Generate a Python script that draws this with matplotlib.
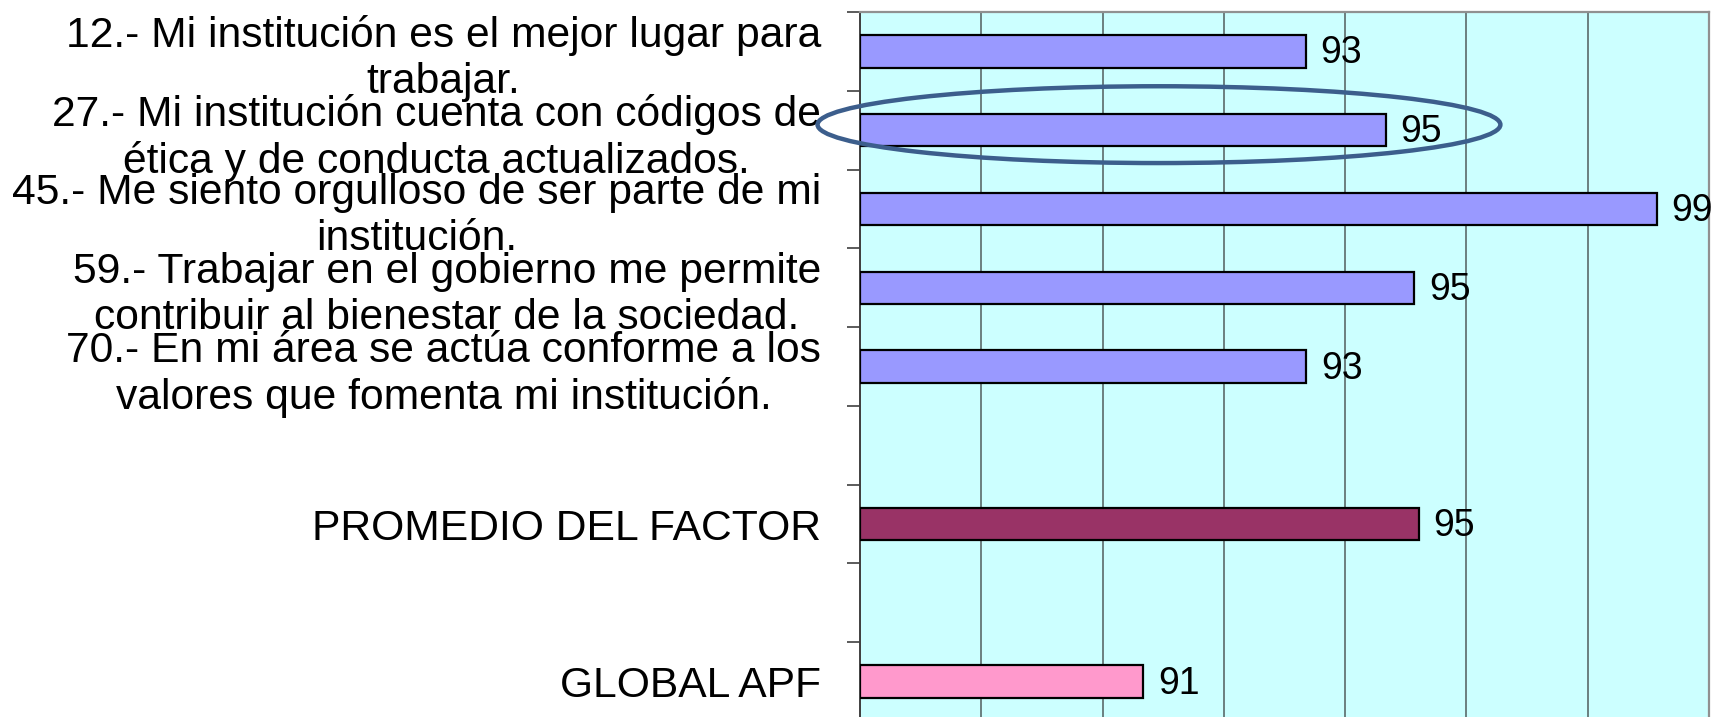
import matplotlib
matplotlib.use("Agg")
import matplotlib.pyplot as plt
from matplotlib.patches import Ellipse
import numpy as np

plt.rcParams['font.family'] = ['Liberation Sans', 'DejaVu Sans']

# ---- data ----
question_labels = [
    "12.- Mi institución es el mejor lugar para\ntrabajar.",
    "27.- Mi institución cuenta con códigos de\nética y de conducta actualizados.",
    "45.- Me siento orgulloso de ser parte de mi\ninstitución.",
    "59.- Trabajar en el gobierno me permite\ncontribuir al bienestar de la sociedad.",
    "70.- En mi área se actúa conforme a los\nvalores que fomenta mi institución.",
]
question_values = [93.35, 94.67, 99.14, 95.14, 93.36]
factor_label = "PROMEDIO DEL FACTOR"
factor_value = 95.22
global_label = "GLOBAL APF"
global_value = 90.67

x_min, x_max, x_step = 86, 100, 2

# ---- layout of category slots (questions, gap, factor, gap, global) ----
labels = question_labels + ["", factor_label, "", global_label]
values = question_values + [np.nan, factor_value, np.nan, global_value]
colors = ["#9999FF"] * len(question_values) + ["none", "#993366", "none", "#FF99CC"]
pos = np.arange(len(labels))

fig = plt.figure(figsize=(17.13, 7.17), dpi=100)
ax = fig.add_axes([860 / 1713, -4 / 717, (1709 - 860) / 1713, (717 - 12 + 4) / 717])
ax.set_facecolor("#CCFFFF")

mask = ~np.isnan(values)
vals = np.array(values)
bars = ax.barh(pos[mask], vals[mask] - x_min, left=x_min, height=0.41,
               color=[c for c, m in zip(colors, mask) if m],
               edgecolor="black", linewidth=1.6, zorder=3)

for p, v in zip(pos[mask], vals[mask]):
    ax.annotate(f"{v:.0f}", xy=(v, p), xytext=(10.5, -1.5), textcoords="offset points",
                ha="left", va="center", fontsize=27, color="black", zorder=4)

ax.set_xlim(x_min, x_max)
ax.set_ylim(len(labels) - 0.5, -0.5)
ax.set_xticks(np.arange(x_min, x_max + 0.01, x_step))
ax.tick_params(axis="x", which="both", bottom=False, top=False, labelbottom=False)
ax.grid(axis="x", color="#5a6a6a", linewidth=1.2, zorder=1)
ax.set_axisbelow(True)

# category boundaries as major ticks, labels on minor ticks at centers
ax.set_yticks(np.arange(-0.5, len(labels), 1.0))
ax.set_yticklabels([])
ax.set_yticks(pos, minor=True)
ax.set_yticklabels(labels, minor=True, fontsize=30.7, multialignment="center",
                   linespacing=1.19)
ax.tick_params(axis="y", which="major", length=9.5, width=1.2, color="#404040")
ax.tick_params(axis="y", which="minor", length=0, pad=28)

for side in ["top", "right"]:
    ax.spines[side].set_color("#909090")
    ax.spines[side].set_linewidth(1.6)
ax.spines["left"].set_color("#404040")
ax.spines["left"].set_linewidth(1.4)
ax.spines["bottom"].set_visible(False)

# highlight ellipse around item 27
ell = Ellipse((90.93, 0.93), width=11.26, height=0.975, fill=False,
              edgecolor="#3C5E8C", linewidth=3.2, clip_on=False, zorder=5)
ax.add_patch(ell)

fig.savefig("out.png", dpi=100)
